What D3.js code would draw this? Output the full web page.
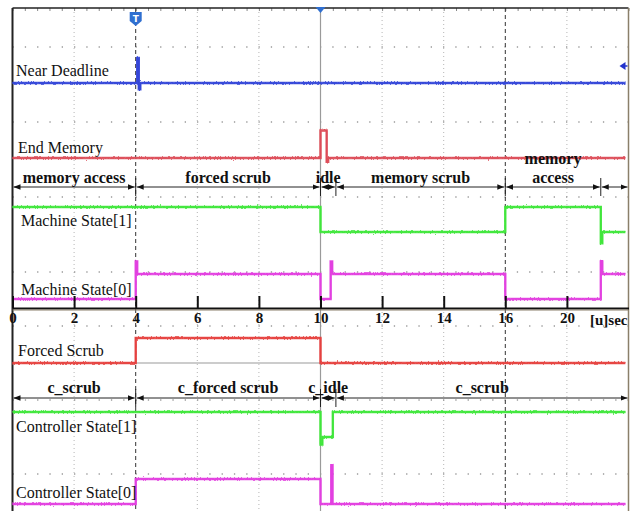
<!DOCTYPE html>
<html>
<head>
<meta charset="utf-8">
<script src="https://cdn.jsdelivr.net/npm/d3@7"></script>
<style>
  html, body { margin: 0; padding: 0; background: #fff; }
  svg { display: block; }
  .lbl { font-family: "Liberation Serif", "Times New Roman", serif; font-size: 16px; fill: #111; }
  .ann { font-family: "Liberation Serif", "Times New Roman", serif; font-size: 16px; font-weight: bold; fill: #111; }
  .axis text { font-family: "Liberation Serif", "Times New Roman", serif; font-size: 15px; font-weight: bold; fill: #111; }
</style>
</head>
<body>
<svg id="chart" width="634" height="511"></svg>
<script>
// ---------------- DATA (time in microseconds, logic level) ----------------
const timeDomain = [0, 20];
const tickValues = [0, 2, 4, 6, 8, 10, 12, 14, 16, 18];
const tickLabels = ["0", "2", "4", "6", "8", "10", "12", "14", "16", "20"];
const axisUnit = "[u]sec";

const channelNames = ["Near Deadline", "End Memory", "Machine State[1]", "Machine State[0]",
                      "Forced Scrub", "Controller State[1]", "Controller State[0]"];

const nearDeadline      = [[0,0],[4.05,1],[4.1,-0.25],[4.15,0],[19.9,0]];
const endMemory         = [[0,0],[10.0,1.1],[10.2,-0.15],[10.25,0],[19.9,0]];
const machineState1     = [[0,1],[10.0,0],[16.0,1],[19.1,-0.45],[19.15,0],[19.9,0]];
const machineState0     = [[0,0],[4.0,1.5],[4.05,1],[10.0,0],[10.33,1.5],[10.38,1],[16.0,0],[19.1,1.5],[19.15,1],[19.9,1]];
const forcedScrub       = [[0,0],[4.0,1],[10.0,0],[19.9,0]];
const controllerState1  = [[0,1],[10.0,-0.3],[10.06,0],[10.4,1],[19.9,1]];
const controllerState0  = [[0,0],[4.0,1],[10.0,0],[10.35,1.55],[10.39,0],[19.9,0]];

const machineBounds   = [0, 4, 10, 10.5, 16, 19.1, 20];
const machineLabels   = ["memory access", "forced scrub", "idle", "memory scrub", "memory\naccess", ""];
const controllerBounds = [0, 4, 10, 10.5, 20];
const controllerLabels = ["c_scrub", "c_forced scrub", "c_idle", "c_scrub"];

const markerTimes = [4, 10, 16];   // trigger / cursor lines

// ---------------- LAYOUT / STYLE ----------------
const W = 634, H = 511;
const frame = { left: 12.5, top: 8, right: 628.5 };
const unitPx = 25;                 // pixels per logic level
const channelLayout = [
  { data: nearDeadline,     base: 83,  color: "#3346d8", labelY: 76,  labelX: 16 },
  { data: endMemory,        base: 158, color: "#dd4c58", labelY: 153, labelX: 18 },
  { data: machineState1,    base: 232, color: "#3fe63a", labelY: 226, labelX: 21 },
  { data: machineState0,    base: 299, color: "#e23fe0", labelY: 295, labelX: 21 },
  { data: forcedScrub,      base: 363, color: "#e5403f", labelY: 356, labelX: 18 },
  { data: controllerState1, base: 437, color: "#3fe63a", labelY: 432, labelX: 16 },
  { data: controllerState0, base: 504, color: "#e23fe0", labelY: 498, labelX: 16 }
];
const annRows = [
  { bounds: machineBounds, labels: machineLabels, y: 187, textY: 183 },
  { bounds: controllerBounds, labels: controllerLabels, y: 398, textY: 393 }
];
const gridRowsY = [47, 122, 197, 272, 326, 400, 474];
const axisY = 308;

const svg = d3.select("#chart");
const x = d3.scaleLinear().domain(timeDomain).range([frame.left, frame.right]);

// defs: noise filter (vertical jitter only) + arrowheads
const defs = svg.append("defs");
const f = defs.append("filter").attr("id", "noise").attr("x", "-2%").attr("y", "-50%").attr("width", "104%").attr("height", "200%");
f.append("feTurbulence").attr("type", "fractalNoise").attr("baseFrequency", "0.7 0.5").attr("numOctaves", 2).attr("seed", 7).attr("result", "t");
f.append("feColorMatrix").attr("in", "t").attr("type", "matrix")
  .attr("values", "0 0 0 0 0.5  0 1 0 0 0  0 0 1 0 0  0 0 0 0 1").attr("result", "t2");
f.append("feDisplacementMap").attr("in", "SourceGraphic").attr("in2", "t2").attr("scale", 5)
  .attr("xChannelSelector", "R").attr("yChannelSelector", "G");

defs.append("marker").attr("id", "arr").attr("viewBox", "0 0 10 10")
  .attr("refX", 10).attr("refY", 5).attr("markerWidth", 7).attr("markerHeight", 7)
  .attr("markerUnits", "userSpaceOnUse").attr("orient", "auto-start-reverse")
  .append("path").attr("d", "M0,1 L10,5 L0,9 Z").attr("fill", "#111");

// ---------------- GRID ----------------
const g = svg.append("g");
g.selectAll("line.vg").data(tickValues.filter(t => t > 0 && !markerTimes.includes(t)))
  .join("line").attr("class", "vg")
  .attr("x1", d => x(d)).attr("x2", d => x(d)).attr("y1", frame.top).attr("y2", H)
  .attr("stroke", "#b5b5b5").attr("stroke-width", 1).attr("stroke-dasharray", "1,3");
g.selectAll("line.hg").data(gridRowsY).join("line").attr("class", "hg")
  .attr("x1", frame.left).attr("x2", frame.right).attr("y1", d => d).attr("y2", d => d)
  .attr("stroke", "#9a9a9a").attr("stroke-width", 1.3).attr("stroke-dasharray", "1.3,11");

const minor = d3.axisBottom(x).tickValues(d3.range(0, 20.001, 0.4)).tickSize(3).tickFormat("");
g.append("g").attr("transform", `translate(0,${frame.top})`).call(minor)
  .call(s => s.select(".domain").remove())
  .call(s => s.selectAll("line").attr("stroke", "#888"));

g.selectAll("line.cur").data(markerTimes).join("line").attr("class", "cur")
  .attr("x1", d => x(d)).attr("x2", d => x(d)).attr("y1", frame.top).attr("y2", H)
  .attr("stroke", d => d === 10 ? "#9a9a9a" : "#333")
  .attr("stroke-width", d => d === 10 ? 1.2 : 1)
  .attr("stroke-dasharray", d => d === 10 ? null : "4,3");

g.append("line").attr("x1", x(4)).attr("x2", x(10)).attr("y1", 363).attr("y2", 363)
  .attr("stroke", "#999").attr("stroke-width", 1);

// ---------------- FRAME ----------------
svg.append("line").attr("x1", frame.left).attr("x2", frame.right).attr("y1", frame.top).attr("y2", frame.top)
  .attr("stroke", "#222").attr("stroke-width", 1.5);
svg.append("line").attr("x1", frame.left).attr("x2", frame.left).attr("y1", frame.top).attr("y2", H)
  .attr("stroke", "#222").attr("stroke-width", 2);
svg.append("line").attr("x1", frame.right).attr("x2", frame.right).attr("y1", frame.top).attr("y2", H)
  .attr("stroke", "#8a7f6a").attr("stroke-width", 1.5);

// ---------------- TRACES ----------------
channelLayout.forEach((c, i) => {
  const y = d3.scaleLinear().domain([0, 1]).range([c.base, c.base - unitPx]);
  const line = d3.line().x(d => x(d[0])).y(d => y(d[1])).curve(d3.curveStepAfter);
  const d = line(c.data);
  svg.append("path").attr("d", d)
    .attr("fill", "none").attr("stroke", c.color).attr("stroke-width", 2.4).attr("stroke-opacity", 0.9);
  svg.append("path").attr("d", d)
    .attr("fill", "none").attr("stroke", c.color).attr("stroke-width", 1.4)
    .attr("filter", "url(#noise)");
  svg.append("text").attr("class", "lbl").attr("x", c.labelX).attr("y", c.labelY).text(channelNames[i]);
});

// ---------------- ANNOTATION ARROWS ----------------
annRows.forEach(r => {
  const segs = r.labels.map((l, i) => ({ a: r.bounds[i], b: r.bounds[i + 1], label: l }));
  const gr = svg.append("g");
  gr.selectAll("line.seg").data(segs).join("line").attr("class", "seg")
    .attr("x1", d => x(d.a) + 1).attr("x2", d => x(d.b) - 1).attr("y1", r.y).attr("y2", r.y)
    .attr("stroke", "#222").attr("stroke-width", 1)
    .attr("marker-start", "url(#arr)").attr("marker-end", "url(#arr)");
  gr.selectAll("line.sep").data(r.bounds.slice(1, -1)).join("line").attr("class", "sep")
    .attr("x1", d => x(d)).attr("x2", d => x(d)).attr("y1", r.y - 9).attr("y2", r.y + 9)
    .attr("stroke", "#222").attr("stroke-width", 1);
  segs.forEach(d => {
    if (!d.label) return;
    const lines = d.label.split("\n");
    const t = gr.append("text").attr("class", "ann").attr("text-anchor", "middle");
    lines.forEach((ln, k) => {
      t.append("tspan").attr("x", x((d.a + d.b) / 2))
        .attr("y", r.textY - (lines.length - 1 - k) * 19).text(ln);
    });
  });
});

// ---------------- TIME AXIS ----------------
const axis = d3.axisBottom(x).tickValues(tickValues)
  .tickFormat((d, i) => tickLabels[i]).tickSizeInner(-12).tickSizeOuter(0).tickPadding(4);
const ag = svg.append("g").attr("class", "axis").attr("transform", `translate(0,${axisY})`).call(axis);
ag.select(".domain").attr("stroke", "#111").attr("stroke-width", 2.2);
ag.selectAll(".tick line").attr("stroke", "#111").attr("stroke-width", 2);
ag.append("text").attr("x", frame.right - 1).attr("y", 17).attr("text-anchor", "end")
  .attr("font-family", "Liberation Serif, serif").attr("font-size", 15).attr("font-weight", "bold")
  .attr("fill", "#111").text(axisUnit);
ag.append("line").attr("x1", frame.left).attr("x2", frame.right).attr("y1", 2).attr("y2", 2)
  .attr("stroke", "#8a7f6a").attr("stroke-width", 1);

// ---------------- SCOPE MARKERS ----------------
const tx = x(4);
svg.append("path").attr("d", `M${tx-6},12 h12 v9 l-6,5 l-6,-5 Z`).attr("fill", "#2f6fd0");
svg.append("text").attr("x", tx).attr("y", 22).attr("text-anchor", "middle")
  .attr("font-family", "DejaVu Sans, sans-serif").attr("font-size", 9).attr("font-weight", "bold")
  .attr("fill", "#fff").text("T");
svg.append("path").attr("d", `M${x(10)-5},7 h10 l-5,6 Z`).attr("fill", "#2f6fd0");
svg.append("path").attr("d", `M${frame.right-9},66 l6,-4 v8 Z`).attr("fill", "#2233cc");
svg.append("line").attr("x1", frame.right-4).attr("x2", frame.right-1).attr("y1", 66).attr("y2", 66)
  .attr("stroke", "#2233cc").attr("stroke-width", 1.5);
</script>
</body>
</html>
